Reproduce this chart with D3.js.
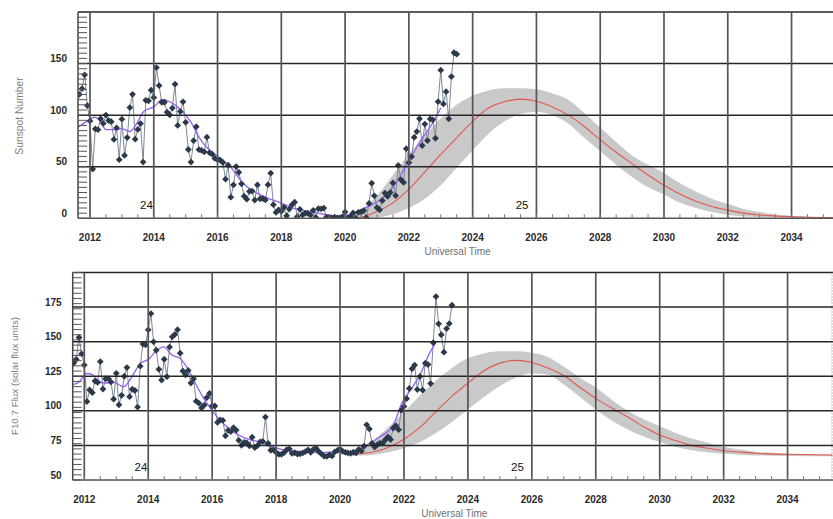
<!DOCTYPE html>
<html><head><meta charset="utf-8">
<script src="https://cdn.jsdelivr.net/npm/d3@7"></script>
<style>body{margin:0;background:#fff}svg{display:block}</style>
</head><body><svg id="c" width="833" height="519"></svg>
<script>
// ---------- DATA ----------
const startYear = 2011, startMonth = 9; // first monthly value: Sep 2011
const sunspotMonthly = [
120.1,125.7,139.1,109.3,
94.4,47.8,86.6,85.9,96.5,92.0,100.1,94.8,93.7,76.5,87.6,56.8,
96.1,60.9,78.3,107.3,120.2,76.7,86.2,91.8,54.5,114.4,113.9,124.2,
117.0,146.1,128.7,112.5,112.5,102.9,100.2,106.9,130.0,90.0,103.6,112.9,
93.0,66.7,54.5,75.3,88.8,66.5,65.8,64.4,78.6,63.6,62.2,58.0,
57.0,56.4,54.1,37.9,51.5,20.5,32.4,50.2,44.6,33.4,21.4,18.5,
26.1,26.4,17.7,32.3,18.9,19.2,17.8,32.6,43.7,13.2,5.7,8.2,
6.8,10.7,2.5,8.9,13.1,15.6,1.6,8.7,3.3,4.9,4.9,3.1,
7.7,0.8,9.4,9.1,9.9,1.2,0.9,0.5,1.1,0.4,0.5,1.5,
6.2,0.2,1.5,5.2,0.2,5.8,6.1,7.5,0.6,14.4,34.0,21.8,
10.4,8.2,17.2,24.5,21.2,25.0,34.3,22.0,51.3,37.4,34.8,67.5,
54.0,59.7,78.5,84.1,96.5,70.5,91.4,75.4,96.3,95.5,77.6,113.1,
143.6,110.9,122.8,96.4,137.4,160.5,159.1
];
const f107Monthly = [
134.5,137.2,153.1,141.2,
133.1,106.7,115.1,113.1,121.5,120.5,135.6,115.7,123.2,123.3,120.9,108.4,
127.1,104.4,111.2,125.0,131.3,110.2,115.6,114.7,102.7,132.3,148.3,147.7,
158.6,170.3,149.9,143.8,130.0,122.2,137.3,124.7,146.1,153.5,155.2,158.7,
141.7,128.8,126.0,129.2,120.1,123.2,107.0,105.5,102.1,104.1,109.6,112.6,
103.5,103.5,91.6,93.4,93.1,81.9,85.9,85.0,87.8,86.1,78.7,75.1,
77.2,76.9,74.6,80.9,73.5,74.9,77.5,77.9,95.5,76.5,71.5,71.8,
70.0,68.6,68.6,69.8,71.9,72.5,69.2,69.7,68.8,68.9,69.6,70.5,
71.8,70.0,72.2,72.9,70.6,68.9,67.3,67.0,68.1,67.4,70.3,71.4,
72.4,70.7,70.0,69.6,69.3,70.1,69.6,72.1,71.0,74.4,89.9,86.9,
76.5,73.8,75.5,76.6,76.6,79.1,81.2,79.2,87.6,89.2,86.4,100.4,
103.2,108.8,116.2,130.4,133.1,115.4,124.9,114.9,134.4,133.5,119.7,149.3,
182.6,162.9,155.0,142.4,159.5,163.1,176.4
];
const sunspotSmoothed = [[2011.62,88],[2011.9,94],[2012.15,98],[2012.3,95],[2012.5,86],[2012.8,86],[2013.0,87],[2013.25,84],[2013.45,91],[2013.7,104],[2014.0,108],[2014.28,115],[2014.5,113],[2014.85,105],[2015.15,94],[2015.45,77],[2015.75,66],[2016.0,60],[2016.4,50],[2016.8,34],[2017.35,22.5],[2017.9,16],[2018.4,9.7],[2018.9,6.4],[2019.45,3.2],[2019.95,1.8],[2020.2,4.8],[2020.6,9.7],[2021.1,18],[2021.5,30],[2021.8,45],[2022.1,61],[2022.4,77],[2022.7,90],[2023.0,107]];
const sunspotPredicted = [[2020.3,0],[2020.5,1],[2021.0,6.5],[2021.5,15],[2022.0,28],[2022.5,45],[2023.0,62],[2023.5,78],[2024.0,94],[2024.5,107],[2025.0,113],[2025.5,115.5],[2026.0,113.5],[2026.5,108],[2027.0,100],[2027.5,89],[2028.0,76],[2028.5,64],[2029.0,53],[2029.5,42],[2030.0,32],[2030.5,23.5],[2031.0,16.5],[2031.5,11.5],[2032.0,8],[2032.5,5],[2033.0,3.2],[2033.5,2.2],[2034.0,1.5],[2035.4,0.4]];
const sunspotUpper = [[2020.0,1],[2020.5,8],[2021.0,22],[2021.5,42],[2022.0,62],[2022.5,80],[2023.0,97],[2023.5,110],[2024.0,119],[2024.5,124],[2025.0,126],[2025.5,126],[2026.0,125],[2026.5,121],[2027.0,115],[2027.5,102],[2028.0,88],[2028.5,74],[2029.0,61],[2029.5,52],[2030.0,44],[2030.5,34],[2031.0,26],[2031.5,19],[2032.0,14],[2032.5,9],[2033.0,6],[2033.5,4],[2034.0,2.5],[2035.0,1],[2035.4,0.6]];
const sunspotLower = [[2020.0,0],[2020.5,0.3],[2021.0,1],[2021.5,4],[2022.0,10],[2022.5,19],[2023.0,32],[2023.5,49],[2024.0,66],[2024.5,82],[2025.0,94],[2025.5,101],[2026.0,103],[2026.5,100],[2027.0,92],[2027.5,78],[2028.0,65],[2028.5,52],[2029.0,40],[2029.5,30],[2030.0,23],[2030.5,15],[2031.0,10],[2031.5,6],[2032.0,3.5],[2032.5,2],[2033.0,1.2],[2034.0,0.5],[2035.0,0.2],[2035.4,0.1]];
const fluxSmoothed = [[2011.64,119],[2011.82,120.5],[2012.08,127],[2012.24,126.4],[2012.45,121.5],[2012.66,120],[2012.92,120.6],[2013.23,117.4],[2013.49,124.6],[2013.75,134.3],[2014.02,137.4],[2014.22,142.7],[2014.48,146.3],[2014.74,140.3],[2015.0,137.9],[2015.26,129.5],[2015.53,117.4],[2015.79,107],[2016.19,94.6],[2016.61,85.6],[2017.03,80.2],[2017.45,77.7],[2017.87,74.1],[2018.39,71.2],[2018.91,70.5],[2019.43,69.8],[2019.95,70.5],[2020.32,70.5],[2020.73,74.1],[2021.25,81.3],[2021.67,89.7],[2021.93,105.4],[2022.2,115],[2022.5,125.9],[2022.77,140.3],[2022.98,148.8]];
const fluxPredicted = [[2020.3,68.5],[2020.5,68.8],[2021.0,70],[2021.5,73.5],[2022.0,79.5],[2022.5,88],[2023.0,99.5],[2023.5,110.5],[2024.0,120],[2024.5,129],[2025.0,134.5],[2025.5,136.5],[2026.0,135],[2026.5,131],[2027.0,125.5],[2027.5,117],[2028.0,109],[2028.5,102],[2029.0,95.5],[2029.5,88.5],[2030.0,82.5],[2030.5,78.5],[2031.0,75],[2031.5,73],[2032.0,71.2],[2032.5,70.2],[2033.0,69.3],[2034.0,68.6],[2035.4,68]];
const fluxUpper = [[2020.3,70],[2020.5,72],[2021.0,78],[2021.5,88],[2022.0,99],[2022.5,111],[2023.0,122],[2023.5,131],[2024.0,138],[2024.5,141.5],[2025.0,143],[2025.5,143],[2026.0,142],[2026.5,139],[2027.0,132],[2027.5,124],[2028.0,117],[2028.5,108],[2029.0,100],[2029.5,94],[2030.0,89],[2030.5,84],[2031.0,80],[2031.5,77],[2032.0,74],[2032.5,72],[2033.0,70.5],[2034.0,69],[2035.4,68]];
const fluxLower = [[2020.3,67.5],[2020.5,67.5],[2021.0,68],[2021.5,70],[2022.0,73],[2022.5,77.5],[2023.0,84],[2023.5,92],[2024.0,101],[2024.5,110],[2025.0,118],[2025.5,124],[2026.0,127],[2026.5,126],[2027.0,119],[2027.5,110],[2028.0,101],[2028.5,93],[2029.0,86.5],[2029.5,81.5],[2030.0,77.5],[2030.5,74],[2031.0,71.5],[2031.5,70],[2032.0,69],[2032.5,68.3],[2033.0,67.8],[2034.0,67.4],[2035.4,67.2]];
const xTickYears = [2012,2014,2016,2018,2020,2022,2024,2026,2028,2030,2032,2034];
const sunspotTicks = [0,50,100,150];
const fluxTicks = [50,75,100,125,150,175];
const cycleLabels = [{text:"24", year:2013.77}, {text:"25", year:2025.55}];

// ---------- DRAW ----------
const svg = d3.select("#c");
function monthYear(i){ return startYear + (startMonth - 1 + i) / 12; }

function panel(o){
  const x = d3.scaleLinear().domain(o.xDomain).range([o.x0, o.x1]);
  const y = d3.scaleLinear().domain(o.yDomain).range([o.y1, o.y0]);
  const g = svg.append("g");
  const clipId = "clip" + o.id;
  svg.append("clipPath").attr("id", clipId).append("rect")
    .attr("x", o.x0).attr("y", o.y0 - 2).attr("width", o.x1 - o.x0 + 2).attr("height", o.y1 - o.y0 + 2);
  const pg = g.append("g").attr("clip-path", `url(#${clipId})`);

  // band
  const lowInterp = d3.scaleLinear().domain(o.lower.map(d => d[0])).range(o.lower.map(d => d[1]));
  pg.append("path")
    .datum(o.upper.map(d => d[0]))
    .attr("fill", "#c9c9c9")
    .attr("d", d3.area().curve(d3.curveMonotoneX)
      .x(d => x(d))
      .y0(d => y(lowInterp(d)))
      .y1((d, i) => y(o.upper[i][1])));

  // grid
  const top = o.yDomain[1];
  g.append("g").selectAll("line").data(o.yTicks.slice(1).concat([top])).join("line")
    .attr("x1", o.x0).attr("x2", 833).attr("y1", d => y(d)).attr("y2", d => y(d))
    .attr("stroke", "#262626").attr("stroke-width", 1.5);
  g.append("g").selectAll("line").data(xTickYears).join("line")
    .attr("x1", d => x(d)).attr("x2", d => x(d)).attr("y1", o.y0).attr("y2", o.y1)
    .attr("stroke", "#555").attr("stroke-width", 1.7);

  // axes
  g.append("line").attr("x1", o.x0).attr("x2", o.x0).attr("y1", o.y0).attr("y2", o.y1)
    .attr("stroke", "#444").attr("stroke-width", 1.5);
  g.append("line").attr("x1", o.x0).attr("x2", 833).attr("y1", o.y1).attr("y2", o.y1)
    .attr("stroke", "#555").attr("stroke-width", 1.5);
  // minor x ticks every half year
  const xMinor = d3.range(Math.ceil(o.xDomain[0] * 2) / 2, o.xDomain[1], 0.5);
  g.append("g").selectAll("line").data(xMinor).join("line")
    .attr("x1", d => x(d)).attr("x2", d => x(d)).attr("y1", o.y1).attr("y2", o.y1 - 4)
    .attr("stroke", "#777").attr("stroke-width", 1);
  // y ladder ticks
  const step = (o.yDomain[1] - o.yDomain[0]) / 40;
  const yMinor = d3.range(0, 41).map(i => o.yDomain[0] + i * step);
  g.append("g").selectAll("line").data(yMinor).join("line")
    .attr("x1", o.x0).attr("x2", o.x0 + 9).attr("y1", d => y(d)).attr("y2", d => y(d))
    .attr("stroke", "#555").attr("stroke-width", 1);
  if (o.rightDotted) {
    g.append("line").attr("x1", o.x1).attr("x2", o.x1).attr("y1", o.y0).attr("y2", o.y1)
      .attr("stroke", "#777").attr("stroke-width", 1).attr("stroke-dasharray", "1,2");
  }

  // predicted & smoothed
  pg.append("path").datum(o.pred).attr("fill", "none").attr("stroke", "#e0574f").attr("stroke-width", 1.1)
    .attr("d", d3.line().curve(d3.curveMonotoneX).x(d => x(d[0])).y(d => y(d[1])));
  // observed
  const obs = o.monthly.map((v, i) => [monthYear(i), v]);
  pg.append("path").datum(obs).attr("fill", "none").attr("stroke", "#7d8794").attr("stroke-width", 1)
    .attr("d", d3.line().x(d => x(d[0])).y(d => y(d[1])));
  pg.append("path").datum(o.smooth).attr("fill", "none").attr("stroke", "#9360f5").attr("stroke-width", 1.3)
    .attr("d", d3.line().curve(d3.curveMonotoneX).x(d => x(d[0])).y(d => y(d[1])));
  pg.append("g").selectAll("path").data(obs).join("path")
    .attr("d", d3.symbol(d3.symbolSquare, 23)())
    .attr("transform", d => `translate(${x(d[0])},${y(d[1])}) rotate(45)`)
    .attr("fill", "#2b3a4b");

  // labels
  const font = "Liberation Sans, Arial, sans-serif";
  g.append("g").selectAll("text").data(xTickYears).join("text")
    .attr("x", d => x(d)).attr("y", o.y1 + 23).attr("text-anchor", "middle")
    .attr("font-family", font).attr("font-size", 10).attr("font-weight", "bold").attr("fill", "#2a2a2a")
    .text(d => d);
  g.append("g").selectAll("text").data(o.yTicks).join("text")
    .attr("x", o.x0 - 11).attr("y", d => y(d) - 1.5).attr("text-anchor", "end")
    .attr("font-family", font).attr("font-size", 10).attr("font-weight", "bold").attr("fill", "#2a2a2a")
    .text(d => d);
  g.append("text").attr("x", (o.x0 + o.x1) / 2 + 2).attr("y", o.y1 + 37).attr("text-anchor", "middle")
    .attr("font-family", font).attr("font-size", 10).attr("fill", "#707070").text("Universal Time");
  g.append("text").attr("transform", `translate(${o.titleX},${o.titleY}) rotate(-90)`)
    .attr("text-anchor", "middle").attr("font-family", font).attr("font-size", o.titleSize).attr("fill", "#808080")
    .text(o.title);
  g.append("g").selectAll("text").data(cycleLabels).join("text")
    .attr("x", d => x(d.year)).attr("y", o.cycleY).attr("text-anchor", "middle")
    .attr("font-family", font).attr("font-size", 11.5).attr("fill", "#111").text(d => d.text);
}

panel({id: "a", x0: 78, x1: 833, y0: 12, y1: 218.3, xDomain: [2011.624, 2035.30], yDomain: [0, 200],
  yTicks: sunspotTicks, monthly: sunspotMonthly, smooth: sunspotSmoothed, pred: sunspotPredicted,
  upper: sunspotUpper, lower: sunspotLower, title: "Sunspot Number", titleX: 23, titleY: 116, titleSize: 10.3,
  cycleY: 209, rightDotted: false});
panel({id: "b", x0: 72.7, x1: 832, y0: 272.5, y1: 480, xDomain: [2011.637, 2035.39], yDomain: [50, 200],
  yTicks: fluxTicks, monthly: f107Monthly, smooth: fluxSmoothed, pred: fluxPredicted,
  upper: fluxUpper, lower: fluxLower, title: "F10.7 Flux (solar flux units)", titleX: 18, titleY: 376, titleSize: 9.8,
  cycleY: 470.5, rightDotted: true});
</script></body></html>
